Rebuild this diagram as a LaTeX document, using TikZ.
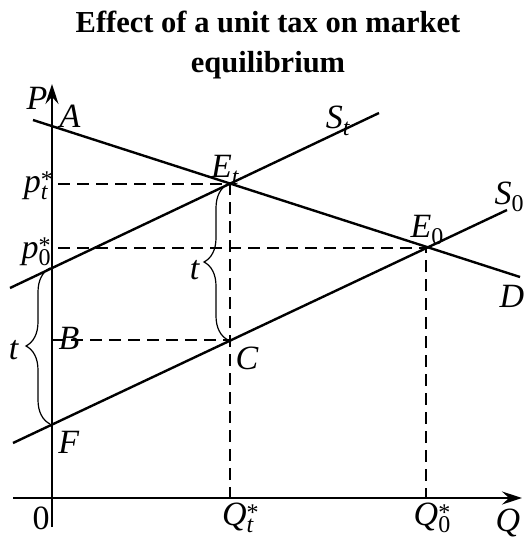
\documentclass[tikz,border=0pt]{standalone}
\usepackage{fontspec}
\setmainfont{Liberation Serif}
\usetikzlibrary{arrows.meta,decorations.pathreplacing}
% letter with superscript and subscript, all in text fonts
\newcommand{\symb}[3]{\textit{#1}\rlap{\raisebox{0.14em}{\fontsize{24}{24}\selectfont #2}}\raisebox{-0.22em}{\fontsize{24}{24}\selectfont #3}}

\begin{document}
\begin{tikzpicture}[x=1pt,y=-1pt,>={Stealth[length=20pt,width=13pt,inset=7pt]},
  curve/.style={line width=2.4pt},
  guide/.style={line width=1.8pt,dash pattern=on 12pt off 7pt},
  lbl/.style={font=\fontsize{34}{36}\selectfont,inner sep=0pt},
  tbrace/.style={line width=1.2pt,decorate,decoration={brace,amplitude=24pt}}]
\useasboundingbox (0,0) rectangle (528,540);
% points of the diagram
\coordinate (Ptop) at (52,84);   \coordinate (Pbot) at (52,527);
\coordinate (Qleft) at (13,498); \coordinate (Qright) at (522,498);
\coordinate (D1) at (33,120);    \coordinate (D2) at (520,277);
\coordinate (S01) at (13,443);   \coordinate (S02) at (507,210);
\coordinate (St1) at (10,288);   \coordinate (St2) at (379,113);
\coordinate (Et) at (230,184);   \coordinate (E0) at (426,248);
\coordinate (C) at (230,340);    \coordinate (B) at (52,340);
\coordinate (F) at (52,424);     \coordinate (p0) at (52,268);
\coordinate (ptd) at (58,184);   \coordinate (p0d) at (58,248);
\coordinate (Qt) at (230,498);   \coordinate (Q0) at (426,498);
% axes
\draw[curve,->] (Pbot) -- (Ptop);
\draw[curve,->] (Qleft) -- (Qright);
% demand and supply
\draw[curve] (D1) -- (D2);
\draw[curve] (S01) -- (S02);
\draw[curve] (St1) -- (St2);
% guides
\draw[guide] (ptd) -- (Et) -- (Qt);
\draw[guide] (p0d) -- (E0) -- (Q0);
\draw[guide] (B) -- (C);
% tax braces
\draw[tbrace] ([xshift=-2pt]F) -- ([xshift=-2pt]p0);
\draw[tbrace] ([xshift=-2pt]C) -- ([xshift=-2pt]Et);
% labels
\node[font=\fontsize{30.5}{40}\selectfont\bfseries,align=center] (title) at (268,45) {Effect of a unit tax on market\\equilibrium};
\node[lbl] (lP) at (37,98) {\textit{P}};
\node[lbl] (lA) at (70,116) {\textit{A}};
\node[lbl] (lpt) at (36,186) {\symb{p}{*}{\textit{t}}};
\node[lbl] (lp0) at (36,252) {\symb{p}{*}{0}};
\node[lbl] (lEt) at (225,170) {\symb{E}{}{\textit{t}}};
\node[lbl] (lE0) at (427,230) {\symb{E}{}{0}};
\node[lbl] (lSt) at (338,121) {\symb{S}{}{\textit{t}}};
\node[lbl] (lS0) at (509,197) {\symb{S}{}{0}};
\node[lbl] (lD) at (512,296) {\textit{D}};
\node[lbl] (lB) at (69,338) {\textit{B}};
\node[lbl] (lC) at (247,358) {\textit{C}};
\node[lbl] (lF) at (69,442) {\textit{F}};
\node[lbl] (ltl) at (14,350) {\textit{t}};
\node[lbl] (ltr) at (195,270) {\textit{t}};
\node[lbl] (lO) at (41,518) {0};
\node[lbl] (lQt) at (238,518) {\symb{Q}{*}{\textit{t}}};
\node[lbl] (lQ0) at (432,518) {\symb{Q}{*}{0}};
\node[lbl] (lQ) at (508,523) {\textit{Q}};
\end{tikzpicture}
\end{document}
